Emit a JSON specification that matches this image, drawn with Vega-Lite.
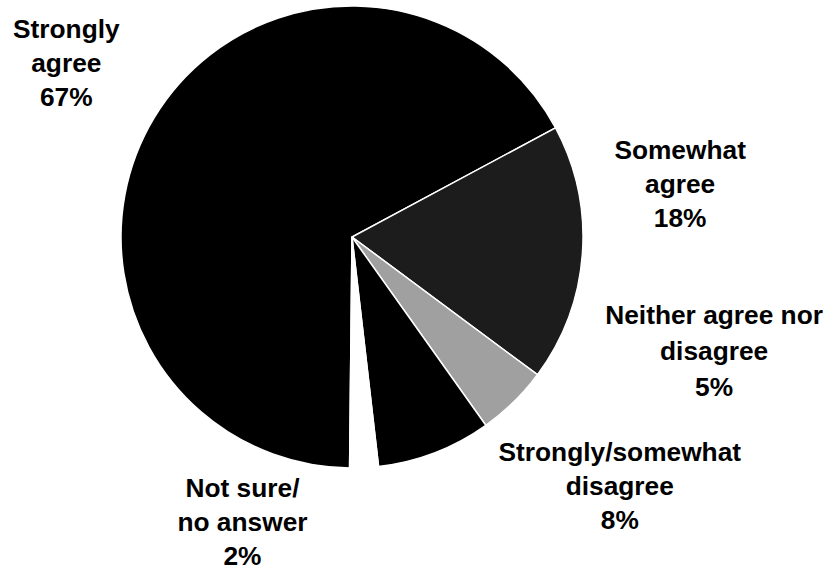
{
  "$schema": "https://vega.github.io/schema/vega-lite/v6.json",
  "width": 704,
  "height": 474,
  "autosize": {"type": "none"},
  "padding": {"left": 0, "top": 0, "right": 122, "bottom": 97},
  "background": "white",
  "config": {"view": {"stroke": null}},
  "data": {
    "values": [
      {"category": "Strongly agree", "value": 67, "label": "Strongly\nagree\n67%", "order": 1},
      {"category": "Somewhat agree", "value": 18, "label": "Somewhat\nagree\n18%", "order": 2},
      {"category": "Neither agree nor disagree", "value": 5, "label": "Neither agree nor\ndisagree\n5%", "order": 3},
      {"category": "Strongly/somewhat disagree", "value": 8, "label": "Strongly/somewhat\ndisagree\n8%", "order": 4},
      {"category": "Not sure/no answer", "value": 2, "label": "Not sure/\nno answer\n2%", "order": 5}
    ]
  },
  "encoding": {
    "theta": {"field": "value", "type": "quantitative", "stack": true, "scale": {"range": [3.152, 9.4352]}},
    "order": {"field": "order", "type": "quantitative", "sort": "ascending"}
  },
  "layer": [
    {
      "mark": {"type": "arc", "radius": 231, "stroke": "white", "strokeWidth": 1.5},
      "encoding": {
        "color": {
          "field": "category",
          "type": "nominal",
          "legend": null,
          "scale": {
            "domain": ["Strongly agree", "Somewhat agree", "Neither agree nor disagree", "Strongly/somewhat disagree", "Not sure/no answer"],
            "range": ["#000000", "#1c1c1c", "#a0a0a0", "#000000", "#ffffff"]
          }
        }
      }
    },
    {
      "mark": {"type": "text", "radius": 334, "dx": 0, "dy": -34, "font": "Liberation Sans", "fontWeight": "bold", "fontSize": 26.3, "lineHeight": 34, "lineBreak": "\n", "align": "center", "baseline": "middle", "color": "#000"},
      "encoding": {"text": {"condition": {"test": "datum.category === 'Strongly agree'", "field": "label"}, "value": ""}}
    },
    {
      "mark": {"type": "text", "radius": 323, "dx": 6, "dy": -110, "font": "Liberation Sans", "fontWeight": "bold", "fontSize": 26.3, "lineHeight": 34, "lineBreak": "\n", "align": "center", "baseline": "middle", "color": "#000"},
      "encoding": {"text": {"condition": {"test": "datum.category === 'Somewhat agree'", "field": "label"}, "value": ""}}
    },
    {
      "mark": {"type": "text", "radius": 336, "dx": 127, "dy": -161, "font": "Liberation Sans", "fontWeight": "bold", "fontSize": 26.3, "lineHeight": 36, "lineBreak": "\n", "align": "center", "baseline": "middle", "color": "#000"},
      "encoding": {"text": {"condition": {"test": "datum.category === 'Neither agree nor disagree'", "field": "label"}, "value": ""}}
    },
    {
      "mark": {"type": "text", "radius": 323, "dx": 152, "dy": -86, "font": "Liberation Sans", "fontWeight": "bold", "fontSize": 26.3, "lineHeight": 34, "lineBreak": "\n", "align": "center", "baseline": "middle", "color": "#000"},
      "encoding": {"text": {"condition": {"test": "datum.category === 'Strongly/somewhat disagree'", "field": "label"}, "value": ""}}
    },
    {
      "mark": {"type": "text", "radius": 257, "dx": -123, "dy": -5, "font": "Liberation Sans", "fontWeight": "bold", "fontSize": 26.3, "lineHeight": 34, "lineBreak": "\n", "align": "center", "baseline": "middle", "color": "#000"},
      "encoding": {"text": {"condition": {"test": "datum.category === 'Not sure/no answer'", "field": "label"}, "value": ""}}
    }
  ]
}
